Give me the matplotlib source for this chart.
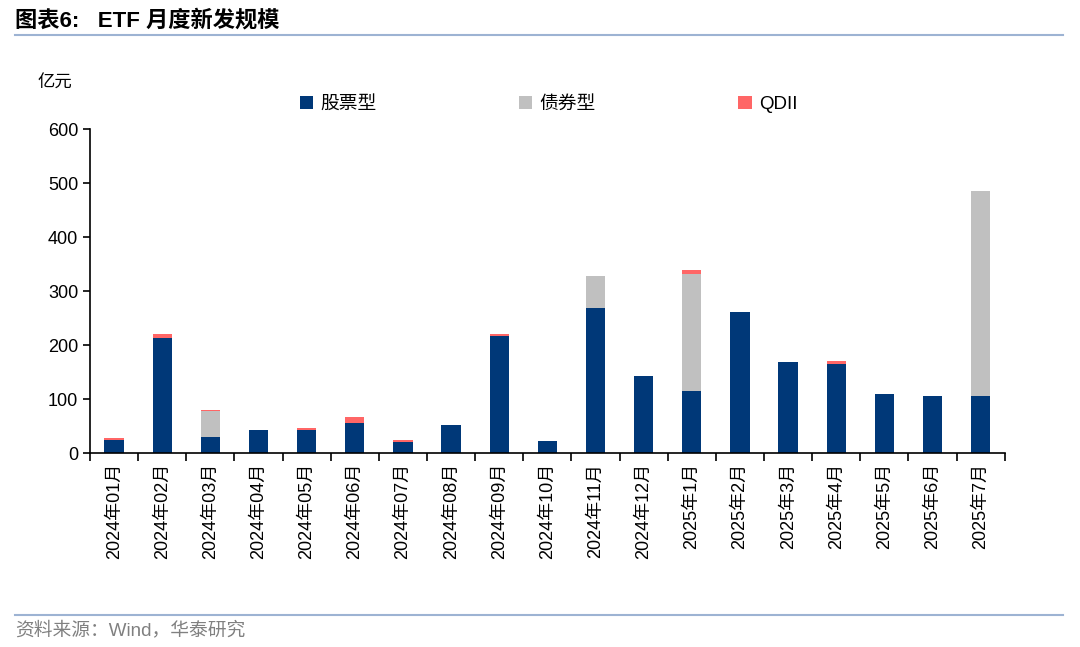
import numpy as np
import matplotlib.pyplot as plt
from matplotlib.lines import Line2D

plt.rcParams['font.family'] = ['Liberation Sans', 'Noto Sans CJK SC', 'DejaVu Sans']

months = ['2024年01月', '2024年02月', '2024年03月', '2024年04月', '2024年05月',
          '2024年06月', '2024年07月', '2024年08月', '2024年09月', '2024年10月',
          '2024年11月', '2024年12月', '2025年1月', '2025年2月', '2025年3月',
          '2025年4月', '2025年5月', '2025年6月', '2025年7月']
# 亿元
stock = [25, 213, 29, 43.5, 43.5, 55, 21, 51.5, 216, 22,
         269, 143.5, 114, 261, 169, 165, 110, 106.5, 106.5]
bond = [0, 0, 48, 0, 0, 0, 0, 0, 0, 0,
        59, 0, 217, 0, 0, 0, 0, 0, 379.5]
qdii = [3, 8, 3.5, 0, 3.5, 11, 4, 0, 5, 0,
        0, 0, 7.5, 0, 0, 4.5, 0, 0, 0]

c_stock = '#003878'
c_bond = '#C0C0C0'
c_qdii = '#FF6666'

fig = plt.figure(figsize=(10.8, 6.47), dpi=100)
ax = fig.add_axes([0.0833, 0.2998, 0.847, 0.5008])

x = np.arange(len(months))
stock = np.array(stock)
bond = np.array(bond)
qdii = np.array(qdii)
w = 0.4
ax.bar(x, stock, w, color=c_stock, label='股票型')
ax.bar(x, bond, w, bottom=stock, color=c_bond, label='债券型')
ax.bar(x, qdii, w, bottom=stock + bond, color=c_qdii, label='QDII')

ax.set_xlim(-0.5, len(months) - 0.5)
ax.set_ylim(0, 600)
ax.set_yticks(range(0, 601, 100))
ax.tick_params(axis='y', labelsize=13, length=5, width=1.2, direction='out')

ax.set_xticks(x)
ax.set_xticklabels(months, rotation=90, fontsize=13)
ax.tick_params(axis='x', which='major', length=0, pad=7)
ax.set_xticks(np.arange(-0.5, len(months), 1), minor=True)
ax.tick_params(axis='x', which='minor', length=6, width=1.2, direction='out')

for s in ['top', 'right']:
    ax.spines[s].set_visible(False)
for s in ['left', 'bottom']:
    ax.spines[s].set_linewidth(1.2)

leg = ax.legend(loc='center', bbox_to_anchor=(0.508, 0.839), bbox_transform=fig.transFigure,
                ncol=3, frameon=False, fontsize=13.5, handlelength=0.7, handleheight=0.7,
                handletextpad=0.4, columnspacing=7.6)

fig.text(0.035, 0.872, '亿元', fontsize=12.5, ha='left', va='center')

fig.text(0.014, 0.968, '图表6:   ETF 月度新发规模', fontsize=16, fontweight='bold',
         ha='left', va='center')
fig.add_artist(Line2D([0.014, 0.984], [0.946, 0.946], color='#9DB3D3', lw=1.5))
fig.add_artist(Line2D([0.014, 0.984], [0.049, 0.049], color='#9DB3D3', lw=1.5))
fig.text(0.014, 0.026, '资料来源：Wind，华泰研究', fontsize=13.5, color='#808080',
         ha='left', va='center')

fig.savefig('out.png', dpi=100)
